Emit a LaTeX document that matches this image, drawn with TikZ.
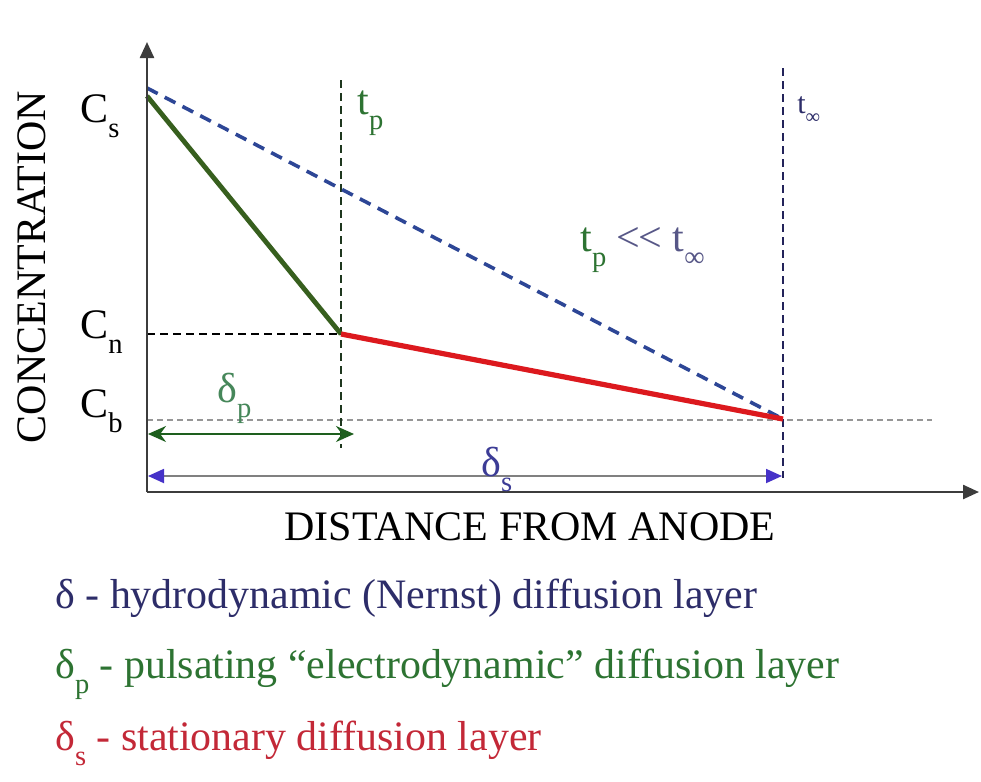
\documentclass[tikz,border=0pt]{standalone}
\usepackage{fontspec}
\setmainfont[Ligatures=NoCommon]{Liberation Serif}
\usetikzlibrary{arrows.meta}
\definecolor{axisgray}{RGB}{60,60,60}
\definecolor{lgreen}{RGB}{55,95,30}
\definecolor{ldblue}{RGB}{45,70,150}
\definecolor{lred}{RGB}{220,25,30}
\definecolor{tgreen}{RGB}{45,115,50}
\definecolor{tnavy}{RGB}{45,45,105}
\definecolor{tred}{RGB}{195,40,55}
\definecolor{arrgreen}{RGB}{30,95,30}
\definecolor{arrblue}{RGB}{70,50,200}
\definecolor{dgray}{RGB}{150,150,150}
\newcommand\lowsub[1]{\raisebox{-0.36em}{\scalebox{0.68}{#1}}}
\begin{document}
\begin{tikzpicture}[x=0.5pt,y=-0.5pt,
  axis/.style={draw=axisgray,line width=1.2pt,-{Triangle[length=8pt,width=7pt]}},
  vdash/.style={draw=black!85,line width=0.9pt,dash pattern=on 4pt off 2.5pt},
  lbl/.style={inner sep=0pt,font=\fontsize{21}{25}\selectfont},
  legend/.style={inner sep=0pt,anchor=base west,font=\fontsize{20.95}{25}\selectfont}]
\useasboundingbox (0,0) rectangle (981,782);
\fill[white] (0,0) rectangle (981,782);
% key points
\coordinate (O) at (147,492);
\coordinate (Ytop) at (147,42);
\coordinate (Xend) at (979,492);
\coordinate (Sb) at (147,88);
\coordinate (Sg) at (147,96);
\coordinate (N) at (341,334);
\coordinate (B) at (783,419);
\coordinate (TpTop) at (341,80);
\coordinate (TpBot) at (341,448);
\coordinate (TiTop) at (783,68);
\coordinate (TiBot) at (783,478);
\coordinate (CnL) at (147,334);
\coordinate (CbL) at (147,420);
\coordinate (CbR) at (932,420);
\coordinate (DpL) at (148,434);
\coordinate (DpR) at (354,434);
\coordinate (DsL) at (148,476);
\coordinate (DsR) at (782,476);
% guide lines
\draw[dgray,line width=0.9pt,dash pattern=on 3pt off 2pt] (CbL) -- (CbR);
\draw[black,line width=0.8pt,dash pattern=on 4pt off 2.5pt] (CnL) -- (N);
\draw[vdash,draw={rgb,255:red,30;green,55;blue,30}] (TpTop) -- (TpBot);
\draw[vdash,draw={rgb,255:red,35;green,35;blue,90}] (TiTop) -- (TiBot);
% curves
\draw[ldblue,line width=1.8pt,dash pattern=on 6pt off 4pt] (Sb) -- (B);
\draw[lgreen,line width=2.4pt] (Sg) -- (N);
\draw[lred,line width=2.6pt] (N) -- (B);
% dimension arrows
\draw[arrgreen,line width=0.9pt,{Stealth[length=9pt,width=8pt]}-{Stealth[length=9pt,width=8pt]}] (DpL) -- (DpR);
\draw[gray,line width=0.9pt,{Triangle[length=8pt,width=7pt,color=arrblue]}-{Triangle[length=8pt,width=7pt,color=arrblue]}] (DsL) -- (DsR);
% axes
\draw[axis] (O) -- (Ytop);
\draw[axis] (O) -- (Xend);
% labels
\node[lbl,anchor=base west] (cs) at (80,122) {C\lowsub{s}};
\node[lbl,anchor=base west] (cn) at (80,338) {C\lowsub{n}};
\node[lbl,anchor=base west] (cb) at (80,417) {C\lowsub{b}};
\node[lbl,anchor=base west,text=tgreen] (tp) at (357,114) {t\lowsub{p}};
\node[lbl,anchor=base west,text=tnavy,font=\fontsize{15}{18}\selectfont] (ti) at (797,113) {t\lowsub{∞}};
\node[lbl,anchor=base west] (rel) at (580,251) {\textcolor{tgreen}{t\lowsub{p}} \textcolor{tnavy!80}{\textless{}\kern-0.05em\textless{} t\lowsub{∞}}};
\node[lbl,anchor=base west,text={rgb,255:red,70;green,135;blue,90}] (dp) at (217,402) {δ\lowsub{p}};
\node[lbl,anchor=base west,text={rgb,255:red,60;green,60;blue,150}] (ds) at (481,476) {δ\lowsub{s}};
\node[lbl,anchor=base] (xl) at (530,540) {DISTANCE FROM ANODE};
\node[lbl,anchor=base,rotate=90] (yl) at (46,267) {CONCENTRATION};
% legend
\node[legend,text=tnavy] (l1) at (55,608) {δ - hydrodynamic (Nernst) diffusion layer};
\node[legend,text=tgreen] (l2) at (55,678) {δ\lowsub{p} - pulsating “electrodynamic” diffusion layer};
\node[legend,text=tred] (l3) at (55,750) {δ\lowsub{s} - stationary diffusion layer};
\end{tikzpicture}
\end{document}
